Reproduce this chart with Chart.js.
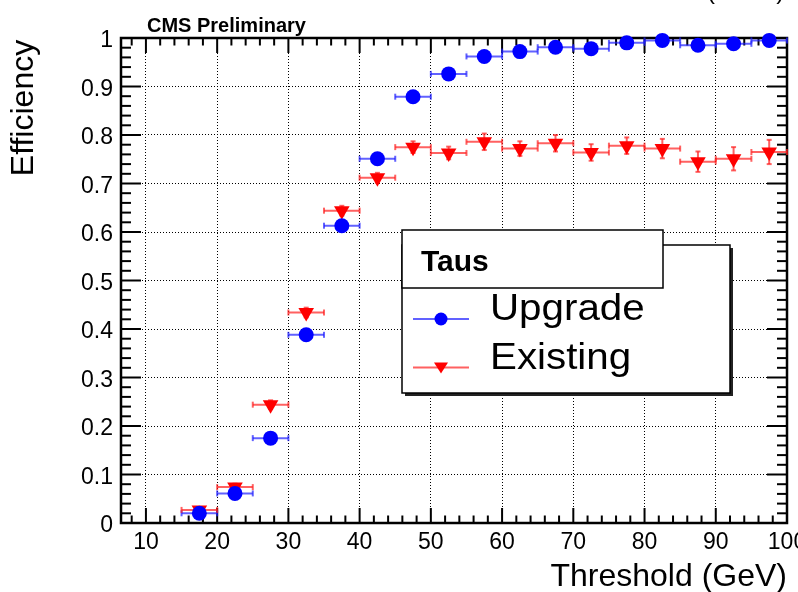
<!DOCTYPE html>
<html>
<head>
<meta charset="utf-8">
<script src="https://cdn.jsdelivr.net/npm/chart.js@4.4.0/dist/chart.umd.min.js"></script>
<style>
  html, body { margin: 0; padding: 0; background: #fff; }
  canvas { display: block; }
</style>
</head>
<body>
<canvas id="eff-chart" width="798" height="592"></canvas>
<script>
// Threshold bins (GeV), each 5 GeV wide
const binCentres = [17.5, 22.5, 27.5, 32.5, 37.5, 42.5, 47.5, 52.5, 57.5, 62.5, 67.5, 72.5, 77.5, 82.5, 87.5, 92.5, 97.5];
const binHalfWidth = [2.5, 2.5, 2.5, 2.5, 2.5, 2.5, 2.5, 2.5, 2.5, 2.5, 2.5, 2.5, 2.5, 2.5, 2.5, 2.5, 2.5];

// Efficiencies
const upgradeEff = [0.020, 0.061, 0.175, 0.388, 0.613, 0.751, 0.879, 0.926, 0.962, 0.972, 0.981, 0.978, 0.990, 0.995, 0.985, 0.988, 0.995];
const upgradeErr = [0.004, 0.006, 0.008, 0.010, 0.010, 0.010, 0.008, 0.007, 0.006, 0.006, 0.005, 0.005, 0.004, 0.003, 0.005, 0.005, 0.004];
const existingEff = [0.027, 0.074, 0.244, 0.434, 0.644, 0.712, 0.775, 0.763, 0.786, 0.772, 0.783, 0.764, 0.778, 0.772, 0.745, 0.751, 0.765];
const existingErr = [0.005, 0.007, 0.009, 0.010, 0.010, 0.010, 0.012, 0.013, 0.017, 0.015, 0.017, 0.017, 0.017, 0.020, 0.021, 0.024, 0.025];

// Axis ticks
const xTickValues = [10, 20, 30, 40, 50, 60, 70, 80, 90, 100];
const yTickValues = [0, 0.1, 0.2, 0.3, 0.4, 0.5, 0.6, 0.7, 0.8, 0.9, 1];

const FONT = "'Liberation Sans', Arial, Helvetica, sans-serif";

function toPoints(xs, ys) {
  return xs.map((x, i) => ({ x: x, y: ys[i] }));
}

function strokeLine(ctx, x1, y1, x2, y2) {
  ctx.beginPath();
  ctx.moveTo(x1, y1);
  ctx.lineTo(x2, y2);
  ctx.stroke();
}

/**
 * Frame with inward ticks on all four sides (ROOT style)
 */
const frameAndTicks = {
  id: 'frameAndTicks',
  beforeDatasetsDraw(chart) {
    const { ctx, chartArea: a, scales: { x, y } } = chart;
    ctx.save();
    ctx.strokeStyle = '#000';
    ctx.lineWidth = 2;

    // x ticks every 2 GeV, long ones every 10
    for (let v = 8; v < 100; v += 2) {
      const px = x.getPixelForValue(v);
      const len = v % 10 === 0 ? 15 : 7.5;
      strokeLine(ctx, px, a.bottom, px, a.bottom - len);
      strokeLine(ctx, px, a.top, px, a.top + len);
    }

    // y ticks every 0.02, long ones every 0.1
    for (let i = 1; i < 50; i++) {
      const py = y.getPixelForValue(i / 50);
      const len = i % 5 === 0 ? 20 : 10;
      strokeLine(ctx, a.left, py, a.left + len, py);
      strokeLine(ctx, a.right, py, a.right - len, py);
    }

    ctx.lineWidth = 2.5;
    ctx.strokeRect(a.left, a.top, a.right - a.left, a.bottom - a.top);
    ctx.restore();
  }
};

/**
 * Horizontal (bin width) and vertical error bars
 */
const errorBars = {
  id: 'errorBars',
  beforeDatasetsDraw(chart) {
    const { ctx, scales: { x, y } } = chart;
    ctx.save();
    chart.data.datasets.forEach((ds) => {
      ctx.strokeStyle = ds.errorColor;
      ctx.lineWidth = 2;
      ds.data.forEach((p, i) => {
        const cx = x.getPixelForValue(p.x);
        const cy = y.getPixelForValue(p.y);
        const xl = x.getPixelForValue(p.x - ds.xErr[i]);
        const xr = x.getPixelForValue(p.x + ds.xErr[i]);
        const yt = y.getPixelForValue(p.y + ds.yErr[i]);
        const yb = y.getPixelForValue(p.y - ds.yErr[i]);
        strokeLine(ctx, xl, cy, xr, cy);
        strokeLine(ctx, xl, cy - 3, xl, cy + 3);
        strokeLine(ctx, xr, cy - 3, xr, cy + 3);
        strokeLine(ctx, cx, yt, cx, yb);
        strokeLine(ctx, cx - 2.5, yt, cx + 2.5, yt);
        strokeLine(ctx, cx - 2.5, yb, cx + 2.5, yb);
      });
    });
    ctx.restore();
  }
};

/**
 * Texts and legend box drawn on top
 */
const decorations = {
  id: 'decorations',
  afterDraw(chart) {
    const { ctx, chartArea: a } = chart;
    ctx.save();
    ctx.fillStyle = '#000';

    // header
    ctx.font = 'bold 20px ' + FONT;
    ctx.textAlign = 'left';
    ctx.textBaseline = 'alphabetic';
    ctx.fillText('CMS Preliminary', 147, 32);

    // mostly cut off at the top edge, as in the original
    ctx.font = '24px ' + FONT;
    ctx.fillText('(8 TeV)', 707, -1);

    // axis titles
    ctx.font = '32px ' + FONT;
    ctx.textAlign = 'right';
    ctx.fillText('Threshold (GeV)', a.right, 586);

    ctx.save();
    ctx.translate(33, 108);
    ctx.rotate(-Math.PI / 2);
    ctx.textAlign = 'center';
    ctx.fillText('Efficiency', 0, 0);
    ctx.restore();

    // legend: shadow, box, header box
    ctx.fillStyle = '#222';
    ctx.fillRect(405, 248, 328, 148);
    ctx.fillStyle = '#fff';
    ctx.fillRect(402, 245, 328, 148);
    ctx.strokeStyle = '#000';
    ctx.lineWidth = 1.5;
    ctx.strokeRect(402, 245, 328, 148);
    ctx.fillRect(402, 230, 261, 58);
    ctx.strokeRect(402, 230, 261, 58);

    ctx.fillStyle = '#000';
    ctx.textAlign = 'left';
    ctx.font = 'bold 30px ' + FONT;
    ctx.fillText('Taus', 421, 271);

    chart.data.datasets.forEach((ds, i) => {
      const ly = 319 + i * 48.5;
      ctx.strokeStyle = ds.errorColor;
      ctx.lineWidth = 2;
      strokeLine(ctx, 413, ly, 469, ly);
      ctx.fillStyle = ds.backgroundColor;
      ctx.beginPath();
      if (ds.pointStyle === 'circle') {
        ctx.arc(441, ly, 6.5, 0, Math.PI * 2);
      } else {
        ctx.moveTo(434, ly - 5);
        ctx.lineTo(448, ly - 5);
        ctx.lineTo(441, ly + 6);
        ctx.closePath();
      }
      ctx.fill();

      ctx.save();
      ctx.fillStyle = '#000';
      ctx.font = '36px ' + FONT;
      ctx.translate(490, ly + 1);
      ctx.scale(1.12, 1);
      ctx.fillText(ds.label, 0, 0);
      ctx.restore();
    });

    ctx.restore();
  }
};

const ctx = document.getElementById('eff-chart').getContext('2d');

const effChart = new Chart(ctx, {
  type: 'scatter',
  data: {
    datasets: [{
      label: 'Upgrade',
      data: toPoints(binCentres, upgradeEff),
      xErr: binHalfWidth,
      yErr: upgradeErr,
      errorColor: 'rgba(30, 30, 255, 0.7)',
      backgroundColor: '#0000ff',
      borderWidth: 0,
      pointStyle: 'circle',
      pointRadius: 7.5,
      pointHoverRadius: 7.5,
      clip: false
    }, {
      label: 'Existing',
      data: toPoints(binCentres, existingEff),
      xErr: binHalfWidth,
      yErr: existingErr,
      errorColor: 'rgba(255, 30, 30, 0.7)',
      backgroundColor: '#ff0000',
      borderWidth: 0,
      pointStyle: 'triangle',
      rotation: 180,
      pointRadius: 9,
      pointHoverRadius: 9,
      clip: false
    }]
  },
  options: {
    responsive: false,
    animation: false,
    layout: {
      padding: { left: 0, right: 11, top: 38, bottom: 0 }
    },
    plugins: {
      legend: { display: false },
      tooltip: { enabled: false }
    },
    scales: {
      x: {
        type: 'linear',
        min: 6.5,
        max: 100,
        afterBuildTicks: (scale) => {
          scale.ticks = xTickValues.map(v => ({ value: v }));
        },
        afterFit: (scale) => {
          scale.height = 69;
          scale.paddingLeft = 0;
          scale.paddingRight = 0;
        },
        ticks: {
          autoSkip: false,
          maxRotation: 0,
          padding: 6,
          color: '#000',
          font: { family: FONT, size: 23 }
        },
        grid: {
          color: '#000',
          lineWidth: 1,
          drawTicks: false
        },
        border: { display: false, dash: [1, 2] }
      },
      y: {
        type: 'linear',
        min: 0,
        max: 1,
        afterBuildTicks: (scale) => {
          scale.ticks = yTickValues.map(v => ({ value: v }));
        },
        afterFit: (scale) => {
          scale.width = 121;
          scale.paddingTop = 0;
          scale.paddingBottom = 0;
        },
        ticks: {
          autoSkip: false,
          padding: 8,
          labelOffset: 3,
          color: '#000',
          font: { family: FONT, size: 23 },
          callback: (v) => String(Math.round(v * 10) / 10)
        },
        grid: {
          color: '#000',
          lineWidth: 1,
          drawTicks: false
        },
        border: { display: false, dash: [1, 2] }
      }
    }
  },
  plugins: [frameAndTicks, errorBars, decorations]
});
</script>
</body>
</html>
